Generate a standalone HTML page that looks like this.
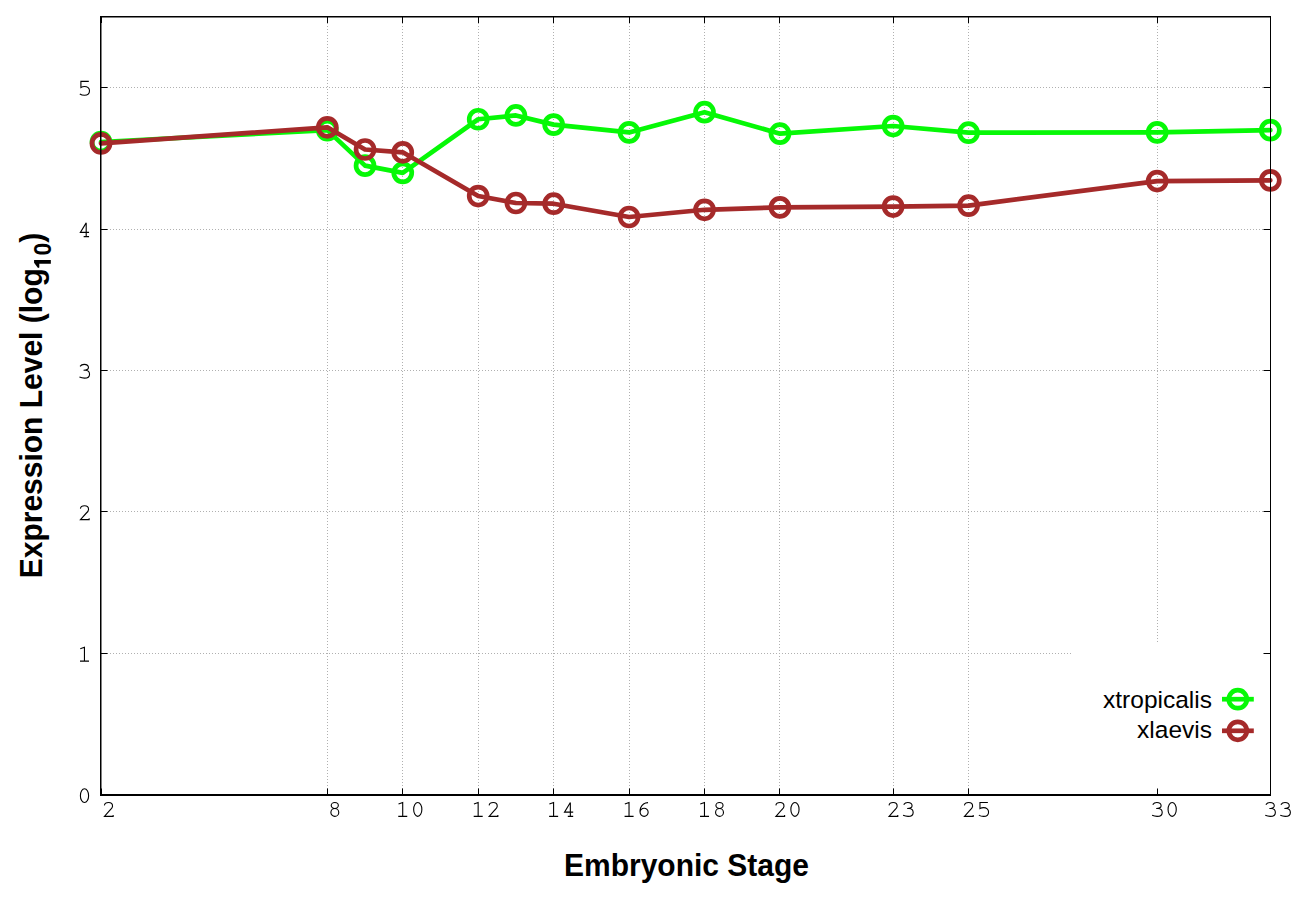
<!DOCTYPE html><html><head><meta charset="utf-8"><style>html,body{margin:0;padding:0;background:#fff;width:1296px;height:907px;overflow:hidden}svg{display:block}</style></head><body>
<svg width="1296" height="907" viewBox="0 0 1296 907">
<rect width="1296" height="907" fill="#fff"/>
<path d="M101 653.5H1270 M101 511.5H1270 M101 370.5H1270 M101 229.5H1270 M101 87.5H1270 M327.5 795V17 M402.5 795V17 M478.5 795V17 M553.5 795V17 M629.5 795V17 M704.5 795V17 M779.5 795V17 M893.5 795V17 M968.5 795V17 M1157.5 795V17" stroke="#b0b0b0" stroke-width="1" stroke-dasharray="1 2" fill="none" shape-rendering="crispEdges"/>
<rect x="1071" y="642" width="199" height="152" fill="#fff"/>
<polyline points="101.00,142.02 327.32,130.13 365.04,165.64 402.76,172.86 478.20,119.24 515.92,115.42 553.64,124.62 629.08,132.40 704.52,112.17 779.96,133.67 893.12,126.03 968.56,132.68 1157.16,132.40 1270.32,130.13" fill="none" stroke="#06f806" stroke-width="4.7" stroke-linejoin="round" stroke-linecap="round"/>
<circle cx="101.00" cy="142.02" r="9.0" fill="none" stroke="#06f806" stroke-width="4.7"/>
<circle cx="327.32" cy="130.13" r="9.0" fill="none" stroke="#06f806" stroke-width="4.7"/>
<circle cx="365.04" cy="165.64" r="9.0" fill="none" stroke="#06f806" stroke-width="4.7"/>
<circle cx="402.76" cy="172.86" r="9.0" fill="none" stroke="#06f806" stroke-width="4.7"/>
<circle cx="478.20" cy="119.24" r="9.0" fill="none" stroke="#06f806" stroke-width="4.7"/>
<circle cx="515.92" cy="115.42" r="9.0" fill="none" stroke="#06f806" stroke-width="4.7"/>
<circle cx="553.64" cy="124.62" r="9.0" fill="none" stroke="#06f806" stroke-width="4.7"/>
<circle cx="629.08" cy="132.40" r="9.0" fill="none" stroke="#06f806" stroke-width="4.7"/>
<circle cx="704.52" cy="112.17" r="9.0" fill="none" stroke="#06f806" stroke-width="4.7"/>
<circle cx="779.96" cy="133.67" r="9.0" fill="none" stroke="#06f806" stroke-width="4.7"/>
<circle cx="893.12" cy="126.03" r="9.0" fill="none" stroke="#06f806" stroke-width="4.7"/>
<circle cx="968.56" cy="132.68" r="9.0" fill="none" stroke="#06f806" stroke-width="4.7"/>
<circle cx="1157.16" cy="132.40" r="9.0" fill="none" stroke="#06f806" stroke-width="4.7"/>
<circle cx="1270.32" cy="130.13" r="9.0" fill="none" stroke="#06f806" stroke-width="4.7"/>
<polyline points="101.00,143.43 327.32,127.30 365.04,149.51 402.76,152.34 478.20,196.06 515.92,202.99 553.64,203.70 629.08,217.00 704.52,209.78 779.96,207.38 893.12,206.53 968.56,205.68 1157.16,181.06 1270.32,180.35" fill="none" stroke="#a52a2a" stroke-width="4.7" stroke-linejoin="round" stroke-linecap="round"/>
<circle cx="101.00" cy="143.43" r="9.0" fill="none" stroke="#a52a2a" stroke-width="4.7"/>
<circle cx="327.32" cy="127.30" r="9.0" fill="none" stroke="#a52a2a" stroke-width="4.7"/>
<circle cx="365.04" cy="149.51" r="9.0" fill="none" stroke="#a52a2a" stroke-width="4.7"/>
<circle cx="402.76" cy="152.34" r="9.0" fill="none" stroke="#a52a2a" stroke-width="4.7"/>
<circle cx="478.20" cy="196.06" r="9.0" fill="none" stroke="#a52a2a" stroke-width="4.7"/>
<circle cx="515.92" cy="202.99" r="9.0" fill="none" stroke="#a52a2a" stroke-width="4.7"/>
<circle cx="553.64" cy="203.70" r="9.0" fill="none" stroke="#a52a2a" stroke-width="4.7"/>
<circle cx="629.08" cy="217.00" r="9.0" fill="none" stroke="#a52a2a" stroke-width="4.7"/>
<circle cx="704.52" cy="209.78" r="9.0" fill="none" stroke="#a52a2a" stroke-width="4.7"/>
<circle cx="779.96" cy="207.38" r="9.0" fill="none" stroke="#a52a2a" stroke-width="4.7"/>
<circle cx="893.12" cy="206.53" r="9.0" fill="none" stroke="#a52a2a" stroke-width="4.7"/>
<circle cx="968.56" cy="205.68" r="9.0" fill="none" stroke="#a52a2a" stroke-width="4.7"/>
<circle cx="1157.16" cy="181.06" r="9.0" fill="none" stroke="#a52a2a" stroke-width="4.7"/>
<circle cx="1270.32" cy="180.35" r="9.0" fill="none" stroke="#a52a2a" stroke-width="4.7"/>
<path d="M101 794.5h6.5M1270 794.5h-6.5 M101 653.5h6.5M1270 653.5h-6.5 M101 511.5h6.5M1270 511.5h-6.5 M101 370.5h6.5M1270 370.5h-6.5 M101 229.5h6.5M1270 229.5h-6.5 M101 87.5h6.5M1270 87.5h-6.5 M101.5 795v-6.5M101.5 17v6 M327.5 795v-6.5M327.5 17v6 M402.5 795v-6.5M402.5 17v6 M478.5 795v-6.5M478.5 17v6 M553.5 795v-6.5M553.5 17v6 M629.5 795v-6.5M629.5 17v6 M704.5 795v-6.5M704.5 17v6 M779.5 795v-6.5M779.5 17v6 M893.5 795v-6.5M893.5 17v6 M968.5 795v-6.5M968.5 17v6 M1157.5 795v-6.5M1157.5 17v6 M1270.5 795v-6.5M1270.5 17v6" stroke="#000" stroke-width="1" fill="none"/>
<path d="M100.75 16V795" stroke="#000" stroke-width="1.5"/>
<path d="M1270.5 16V796" stroke="#000" stroke-width="1"/>
<path d="M100 16.7H1271" stroke="#000" stroke-width="1.4"/>
<path d="M100 795H1271" stroke="#000" stroke-width="2"/>
<g fill="none" stroke="#000" stroke-width="1.1"><path transform="translate(79.85,788.20)" d="M4.65 0.55A4.1 6.9 0 1 1 4.65 14.35A4.1 6.9 0 1 1 4.65 0.55Z"/><path transform="translate(79.85,646.73)" d="M0.4 2.0L4.6 0.55V14.35M0.15 14.35H9.15"/><path transform="translate(79.85,505.26)" d="M0.55 3.3C0.9 1.5 2.5 0.55 4.7 0.55C7.1 0.55 8.7 2.0 8.7 4.2C8.7 5.7 7.7 6.8 6.3 8.0L0.6 14.35H9.3V13.1"/><path transform="translate(79.25,363.79)" d="M0.8 2.6C1.8 1.2 3.2 0.55 4.9 0.55C7.5 0.55 9.2 2.0 9.2 3.8C9.2 5.4 7.5 6.5 4.3 6.5H6.3C9.0 6.8 10.3 8.4 10.3 10.4C10.3 12.7 8.2 14.35 5.2 14.35C3.3 14.35 1.6 13.9 0.2 13.3"/><path transform="translate(79.95,222.32)" d="M6.25 0.55L0.4 10.1H9.1M6.25 0.55V14.35M3.7 14.35H9.1"/><path transform="translate(79.50,80.85)" d="M9.3 0.55H1.4V6.6C2.5 5.9 3.6 5.6 5.0 5.6C8.0 5.6 10.0 7.4 10.0 9.9C10.0 12.6 7.8 14.35 5.0 14.35C3.2 14.35 1.6 13.9 0.3 13.1"/><path transform="translate(103.85,802.00)" d="M0.55 3.3C0.9 1.5 2.5 0.55 4.7 0.55C7.1 0.55 8.7 2.0 8.7 4.2C8.7 5.7 7.7 6.8 6.3 8.0L0.6 14.35H9.3V13.1"/><path transform="translate(330.32,802.00)" d="M4.45 0.55A3.55 2.95 0 1 1 4.45 6.45A3.55 2.95 0 1 1 4.45 0.55ZM4.5 6.45A3.95 3.95 0 1 1 4.5 14.35A3.95 3.95 0 1 1 4.5 6.45Z"/><path transform="translate(398.11,802.00)" d="M0.4 2.0L4.6 0.55V14.35M0.15 14.35H9.15"/><path transform="translate(413.11,802.00)" d="M4.65 0.55A4.1 6.9 0 1 1 4.65 14.35A4.1 6.9 0 1 1 4.65 0.55Z"/><path transform="translate(473.55,802.00)" d="M0.4 2.0L4.6 0.55V14.35M0.15 14.35H9.15"/><path transform="translate(488.55,802.00)" d="M0.55 3.3C0.9 1.5 2.5 0.55 4.7 0.55C7.1 0.55 8.7 2.0 8.7 4.2C8.7 5.7 7.7 6.8 6.3 8.0L0.6 14.35H9.3V13.1"/><path transform="translate(548.99,802.00)" d="M0.4 2.0L4.6 0.55V14.35M0.15 14.35H9.15"/><path transform="translate(564.09,802.00)" d="M6.25 0.55L0.4 10.1H9.1M6.25 0.55V14.35M3.7 14.35H9.1"/><path transform="translate(624.43,802.00)" d="M0.4 2.0L4.6 0.55V14.35M0.15 14.35H9.15"/><path transform="translate(639.43,802.00)" d="M8.6 0.6C5.4 0.7 2.6 2.5 1.2 5.8C0.8 6.9 0.6 8.5 0.6 10.2M4.7 6.3A4.0 4.0 0 1 0 4.7 14.35A4.0 4.0 0 1 0 4.7 6.3Z"/><path transform="translate(699.87,802.00)" d="M0.4 2.0L4.6 0.55V14.35M0.15 14.35H9.15"/><path transform="translate(715.02,802.00)" d="M4.45 0.55A3.55 2.95 0 1 1 4.45 6.45A3.55 2.95 0 1 1 4.45 0.55ZM4.5 6.45A3.95 3.95 0 1 1 4.5 14.35A3.95 3.95 0 1 1 4.5 6.45Z"/><path transform="translate(775.31,802.00)" d="M0.55 3.3C0.9 1.5 2.5 0.55 4.7 0.55C7.1 0.55 8.7 2.0 8.7 4.2C8.7 5.7 7.7 6.8 6.3 8.0L0.6 14.35H9.3V13.1"/><path transform="translate(790.31,802.00)" d="M4.65 0.55A4.1 6.9 0 1 1 4.65 14.35A4.1 6.9 0 1 1 4.65 0.55Z"/><path transform="translate(888.47,802.00)" d="M0.55 3.3C0.9 1.5 2.5 0.55 4.7 0.55C7.1 0.55 8.7 2.0 8.7 4.2C8.7 5.7 7.7 6.8 6.3 8.0L0.6 14.35H9.3V13.1"/><path transform="translate(902.87,802.00)" d="M0.8 2.6C1.8 1.2 3.2 0.55 4.9 0.55C7.5 0.55 9.2 2.0 9.2 3.8C9.2 5.4 7.5 6.5 4.3 6.5H6.3C9.0 6.8 10.3 8.4 10.3 10.4C10.3 12.7 8.2 14.35 5.2 14.35C3.3 14.35 1.6 13.9 0.2 13.3"/><path transform="translate(963.91,802.00)" d="M0.55 3.3C0.9 1.5 2.5 0.55 4.7 0.55C7.1 0.55 8.7 2.0 8.7 4.2C8.7 5.7 7.7 6.8 6.3 8.0L0.6 14.35H9.3V13.1"/><path transform="translate(978.56,802.00)" d="M9.3 0.55H1.4V6.6C2.5 5.9 3.6 5.6 5.0 5.6C8.0 5.6 10.0 7.4 10.0 9.9C10.0 12.6 7.8 14.35 5.0 14.35C3.2 14.35 1.6 13.9 0.3 13.1"/><path transform="translate(1151.91,802.00)" d="M0.8 2.6C1.8 1.2 3.2 0.55 4.9 0.55C7.5 0.55 9.2 2.0 9.2 3.8C9.2 5.4 7.5 6.5 4.3 6.5H6.3C9.0 6.8 10.3 8.4 10.3 10.4C10.3 12.7 8.2 14.35 5.2 14.35C3.3 14.35 1.6 13.9 0.2 13.3"/><path transform="translate(1167.51,802.00)" d="M4.65 0.55A4.1 6.9 0 1 1 4.65 14.35A4.1 6.9 0 1 1 4.65 0.55Z"/><path transform="translate(1265.07,802.00)" d="M0.8 2.6C1.8 1.2 3.2 0.55 4.9 0.55C7.5 0.55 9.2 2.0 9.2 3.8C9.2 5.4 7.5 6.5 4.3 6.5H6.3C9.0 6.8 10.3 8.4 10.3 10.4C10.3 12.7 8.2 14.35 5.2 14.35C3.3 14.35 1.6 13.9 0.2 13.3"/><path transform="translate(1280.07,802.00)" d="M0.8 2.6C1.8 1.2 3.2 0.55 4.9 0.55C7.5 0.55 9.2 2.0 9.2 3.8C9.2 5.4 7.5 6.5 4.3 6.5H6.3C9.0 6.8 10.3 8.4 10.3 10.4C10.3 12.7 8.2 14.35 5.2 14.35C3.3 14.35 1.6 13.9 0.2 13.3"/></g>
<text transform="translate(686.5,876) scale(0.968,1)" font-family="Liberation Sans" font-weight="bold" font-size="31" text-anchor="middle" fill="#000">Embryonic Stage</text>
<text transform="translate(42,405.5) rotate(-90) scale(1,1.06)" font-family="Liberation Sans" font-weight="bold" font-size="30" text-anchor="middle" fill="#000">Expression Level (log<tspan font-size="23" dy="8.8"><tspan fill="transparent">1</tspan>0</tspan><tspan dy="-8.8">)</tspan></text>
<path d="M34.07 259.95H50.83V263.7H39.3V267.6L38.0 267.9L34.07 262.8Z" fill="#000"/>
<text x="1212" y="707.8" font-family="Liberation Sans" font-size="24.5" text-anchor="end" fill="#000">xtropicalis</text>
<text x="1212" y="738.4" font-family="Liberation Sans" font-size="24.5" text-anchor="end" fill="#000">xlaevis</text>
<path d="M1222 699.2H1253.8" stroke="#06f806" stroke-width="4.7"/>
<circle cx="1237.8" cy="699.2" r="9.0" fill="none" stroke="#06f806" stroke-width="4.7"/>
<path d="M1222 730.8H1253.8" stroke="#a52a2a" stroke-width="4.7"/>
<circle cx="1237.8" cy="730.8" r="9.0" fill="none" stroke="#a52a2a" stroke-width="4.7"/>
</svg></body></html>
